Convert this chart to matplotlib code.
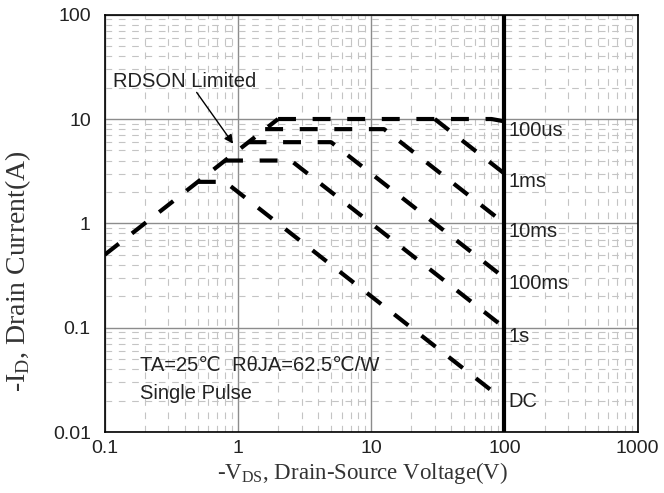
import matplotlib
matplotlib.use("Agg")
import matplotlib.pyplot as plt
from matplotlib.ticker import LogLocator, NullFormatter

plt.rcParams['mathtext.fontset'] = 'custom'
plt.rcParams['mathtext.rm'] = 'Liberation Serif'

# ---- data ----
rdson_v = [0.1, 2.0]
rdson_i = [0.5, 10.0]
us100_v = [2.0, 80.0, 100.0]
us100_i = [10.0, 10.0, 9.5]
ms1_v = [30.0, 100.0]
ms1_i = [10.0, 3.0]
ms10_v = [1.6, 12.5, 100.0]
ms10_i = [8.0, 8.0, 1.0]
ms100_v = [1.2, 5.0, 100.0]
ms100_i = [6.0, 6.0, 0.3]
s1_v = [0.8, 2.5, 100.0]
s1_i = [4.0, 4.0, 0.1]
dc_v = [0.5, 0.8, 100.0]
dc_i = [2.5, 2.5, 0.02]

curve_labels = ["100us", "1ms", "10ms", "100ms", "1s", "DC"]
label_y = [7.8, 2.5, 0.83, 0.265, 0.082, 0.0198]

x_ticks = [0.1, 1, 10, 100, 1000]
x_ticklabels = ["0.1", "1", "10", "100", "1000"]
y_ticks = [0.01, 0.1, 1, 10, 100]
y_ticklabels = ["0.01", "0.1", "1", "10", "100"]
vds_max = 100

sans = ['Liberation Sans', 'DejaVu Sans']
serif = ['Liberation Serif', 'DejaVu Serif']

fig = plt.figure(figsize=(6.64, 4.93), dpi=100)
ax = fig.add_axes([0.1577, 0.1237, 0.8026, 0.8465])
ax.set_xscale('log')
ax.set_yscale('log')
ax.set_xlim(0.1, 1000)
ax.set_ylim(0.01, 100)

# grid
minors = [m for m in range(2, 10)]
ax.xaxis.set_minor_locator(LogLocator(base=10, subs=minors, numticks=20))
ax.yaxis.set_minor_locator(LogLocator(base=10, subs=minors, numticks=20))
ax.xaxis.set_minor_formatter(NullFormatter())
ax.yaxis.set_minor_formatter(NullFormatter())
ax.grid(which='minor', color='#c4c4c4', linestyle=(0, (6, 6)), linewidth=0.8)
ax.grid(which='major', color='#8c8c8c', linestyle='-', linewidth=1.0)
ax.set_axisbelow(True)

ax.set_xticks(x_ticks)
ax.set_xticklabels(x_ticklabels)
ax.set_yticks(y_ticks)
ax.set_yticklabels(y_ticklabels)
ax.tick_params(which='both', length=0, labelsize=14)
ax.tick_params(axis='y', pad=10)
ax.tick_params(axis='x', pad=6)
for t in ax.get_xticklabels() + ax.get_yticklabels():
    t.set_family(sans)
    t.set_color('#222222')

for s in ax.spines.values():
    s.set_linewidth(1.2)
    s.set_color('black')

dash = dict(color='black', linewidth=3.0, dashes=(4.3, 4.0), solid_capstyle='butt', dash_capstyle='butt')
for v, i in [(rdson_v, rdson_i), (us100_v, us100_i), (ms1_v, ms1_i), (ms10_v, ms10_i),
             (ms100_v, ms100_i), (s1_v, s1_i), (dc_v, dc_i)]:
    ax.plot(v, i, **dash)

ax.axvline(vds_max, color='black', linewidth=3.0)

for lab, yv in zip(curve_labels, label_y):
    ax.text(108, yv, lab, fontsize=14.5, family=sans, va='center', ha='left', color='#222222')

ax.text(0.115, 23.0, "RDSON Limited", fontsize=14.5, family=sans, va='center', ha='left',
        color='#222222')
ax.annotate("", xy=(0.92, 5.8), xytext=(0.49, 18.0),
            arrowprops=dict(arrowstyle='-|>', color='black', lw=1.0, shrinkA=0, shrinkB=0,
                            mutation_scale=13))

ax.text(0.184, 0.0433, "TA=25\u2103  R\u03b8JA=62.5\u2103/W", fontsize=14.5, family=sans,
        va='center', ha='left', color='#222222')
ax.text(0.184, 0.0235, "Single Pulse", fontsize=14.5, family=sans,
        va='center', ha='left', color='#222222')

ax.set_xlabel(r"-V$_{\mathrm{DS}}$, Drain-Source Voltage(V)", fontsize=16.5, family=serif,
              color='#333333')
ax.set_ylabel(r"-I$_{\mathrm{D}}$, Drain Current(A)", fontsize=20, family=serif,
              color='#333333')
ax.xaxis.set_label_coords(0.4846, -0.067)
ax.yaxis.set_label_coords(-0.134, 0.385)

fig.savefig("out.png", dpi=100)
